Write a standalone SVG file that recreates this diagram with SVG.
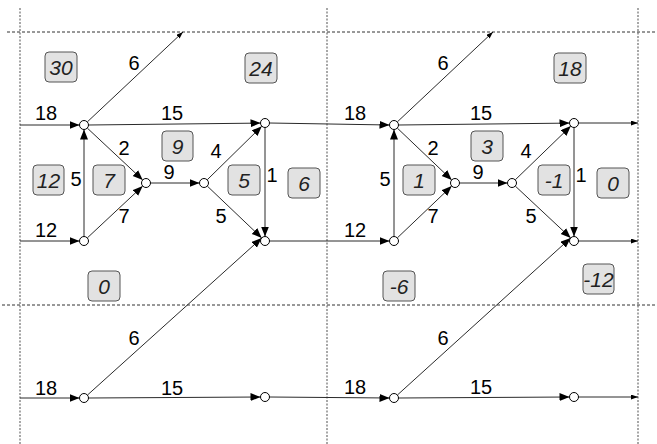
<svg xmlns="http://www.w3.org/2000/svg" width="657" height="444" viewBox="0 0 657 444">
<style>
.grid-v{stroke:#8a8a8a;stroke-width:1.5;stroke-dasharray:2,1.5;fill:none}
.grid-h{stroke:#333;stroke-width:1;stroke-dasharray:3,2;fill:none}
.ea{stroke:#2a2a2a;stroke-width:1;fill:none;marker-end:url(#arr)}
.es{stroke:#2a2a2a;stroke-width:1;fill:none;marker-end:url(#sarr)}
.n{fill:#fff;stroke:#000;stroke-width:1}
.lbl{font-family:"Liberation Sans",Arial,sans-serif;font-size:20px;fill:#000;text-anchor:middle}
.box{fill:#e2e2e2;stroke:#555;stroke-width:1}
.bt{font-family:"Liberation Sans",Arial,sans-serif;font-size:21px;font-style:italic;fill:#222;text-anchor:middle}
</style>
<defs>
<marker id="arr" markerUnits="userSpaceOnUse" markerWidth="11" markerHeight="9" refX="10" refY="4" orient="auto" viewBox="0 0 11 9">
<path d="M0,0 L10,4 L0,8 z" fill="#000"/>
</marker>
<marker id="sarr" markerUnits="userSpaceOnUse" markerWidth="8" markerHeight="6" refX="7" refY="2.5" orient="auto" viewBox="0 0 8 6">
<path d="M0,0 L7,2.5 L0,5 z" fill="#000"/>
</marker>
</defs>
<g id="grid">
<line class="grid-v" x1="20" y1="8" x2="20" y2="444"/>
<line class="grid-v" x1="327" y1="8" x2="327" y2="444"/>
<line class="grid-v" x1="638" y1="8" x2="638" y2="444"/>
<line class="grid-h" x1="7" y1="32" x2="657" y2="32"/>
<line class="grid-h" x1="2" y1="305" x2="657" y2="305"/>
</g>
<g id="connectors">
<line class="ea" x1="20" y1="125" x2="79.5" y2="125"/>
<line class="es" x1="87.3" y1="121.9" x2="183" y2="32"/>
<line class="ea" x1="88.5" y1="125" x2="260.5" y2="123.1"/>
<line class="ea" x1="87.3" y1="128.1" x2="142.7" y2="179.9"/>
<line class="ea" x1="84" y1="236.5" x2="84" y2="129.5"/>
<line class="ea" x1="87.3" y1="237.9" x2="142.7" y2="186.1"/>
<line class="ea" x1="20" y1="241" x2="79.5" y2="241"/>
<line class="ea" x1="150.5" y1="183" x2="199.5" y2="183"/>
<line class="ea" x1="207.2" y1="179.8" x2="261.8" y2="126.2"/>
<line class="ea" x1="207.3" y1="186.1" x2="261.7" y2="237.9"/>
<line class="ea" x1="265" y1="127.5" x2="265" y2="236.5"/>
<line class="ea" x1="269.5" y1="123" x2="389.5" y2="125"/>
<line class="ea" x1="269.5" y1="241" x2="389.5" y2="241"/>
<line class="ea" x1="87.4" y1="395.1" x2="261.6" y2="238.1"/>
<line class="ea" x1="20" y1="398" x2="79.5" y2="398"/>
<line class="ea" x1="88.5" y1="398" x2="260.5" y2="397"/>
<line class="ea" x1="269.5" y1="397" x2="389.5" y2="398"/>
<line class="es" x1="397.3" y1="121.9" x2="493" y2="32"/>
<line class="ea" x1="398.5" y1="125" x2="569.5" y2="123.1"/>
<line class="ea" x1="397.3" y1="128.1" x2="451.7" y2="179.9"/>
<line class="ea" x1="394" y1="236.5" x2="394" y2="129.5"/>
<line class="ea" x1="397.3" y1="237.9" x2="451.7" y2="186.1"/>
<line class="ea" x1="459.5" y1="183" x2="507.5" y2="183"/>
<line class="ea" x1="515.2" y1="179.9" x2="570.8" y2="126.1"/>
<line class="ea" x1="515.3" y1="186.1" x2="570.7" y2="237.9"/>
<line class="ea" x1="574" y1="127.5" x2="574" y2="236.5"/>
<line class="es" x1="578.5" y1="123" x2="638" y2="123"/>
<line class="es" x1="578.5" y1="241" x2="638" y2="241"/>
<line class="ea" x1="397.4" y1="395" x2="570.6" y2="238"/>
<line class="ea" x1="398.5" y1="398" x2="569.5" y2="397"/>
<line class="es" x1="578.5" y1="397" x2="638" y2="397"/>
</g>
<g id="edge-labels">
<text class="lbl" x="46" y="120">18</text>
<text class="lbl" x="134" y="70">6</text>
<text class="lbl" x="172" y="120">15</text>
<text class="lbl" x="124" y="155">2</text>
<text class="lbl" x="76" y="186">5</text>
<text class="lbl" x="124" y="223">7</text>
<text class="lbl" x="169" y="179">9</text>
<text class="lbl" x="216" y="158">4</text>
<text class="lbl" x="272" y="182">1</text>
<text class="lbl" x="221" y="223">5</text>
<text class="lbl" x="46" y="237">12</text>
<text class="lbl" x="134" y="345">6</text>
<text class="lbl" x="46" y="395">18</text>
<text class="lbl" x="172" y="395">15</text>
<text class="lbl" x="355" y="120">18</text>
<text class="lbl" x="443" y="70">6</text>
<text class="lbl" x="481" y="120">15</text>
<text class="lbl" x="433" y="155">2</text>
<text class="lbl" x="385" y="186">5</text>
<text class="lbl" x="433" y="223">7</text>
<text class="lbl" x="478" y="179">9</text>
<text class="lbl" x="526" y="158">4</text>
<text class="lbl" x="581" y="182">1</text>
<text class="lbl" x="531" y="223">5</text>
<text class="lbl" x="355" y="237">12</text>
<text class="lbl" x="443" y="345">6</text>
<text class="lbl" x="355" y="394">18</text>
<text class="lbl" x="481" y="394">15</text>
</g>
<g id="nodeA"><circle class="n" cx="84" cy="125" r="4.5"/></g>
<g id="nodeB"><circle class="n" cx="265" cy="123" r="4.5"/></g>
<g id="nodeC"><circle class="n" cx="84" cy="241" r="4.5"/></g>
<g id="nodeD"><circle class="n" cx="146" cy="183" r="4.5"/></g>
<g id="nodeE"><circle class="n" cx="204" cy="183" r="4.5"/></g>
<g id="nodeF"><circle class="n" cx="265" cy="241" r="4.5"/></g>
<g id="nodeG"><circle class="n" cx="84" cy="398" r="4.5"/></g>
<g id="nodeH"><circle class="n" cx="265" cy="397" r="4.5"/></g>
<g id="nodeA2"><circle class="n" cx="394" cy="125" r="4.5"/></g>
<g id="nodeB2"><circle class="n" cx="574" cy="123" r="4.5"/></g>
<g id="nodeC2"><circle class="n" cx="394" cy="241" r="4.5"/></g>
<g id="nodeD2"><circle class="n" cx="455" cy="183" r="4.5"/></g>
<g id="nodeE2"><circle class="n" cx="512" cy="183" r="4.5"/></g>
<g id="nodeF2"><circle class="n" cx="574" cy="241" r="4.5"/></g>
<g id="nodeG2"><circle class="n" cx="394" cy="398" r="4.5"/></g>
<g id="nodeH2"><circle class="n" cx="574" cy="397" r="4.5"/></g>
<g id="box30"><rect class="box" x="45" y="52" width="32" height="30" rx="4"/><text class="bt" x="61" y="74.5">30</text></g>
<g id="box24"><rect class="box" x="245" y="53" width="32" height="30" rx="4"/><text class="bt" x="261" y="75.5">24</text></g>
<g id="box9"><rect class="box" x="162" y="131" width="31" height="30" rx="4"/><text class="bt" x="177.5" y="153.5">9</text></g>
<g id="box12"><rect class="box" x="33" y="165" width="31" height="30" rx="4"/><text class="bt" x="48.5" y="187.5">12</text></g>
<g id="box7"><rect class="box" x="93" y="165" width="32" height="30" rx="4"/><text class="bt" x="109" y="187.5">7</text></g>
<g id="box5"><rect class="box" x="228" y="165" width="32" height="30" rx="4"/><text class="bt" x="244" y="187.5">5</text></g>
<g id="box6"><rect class="box" x="288" y="168" width="32" height="30" rx="4"/><text class="bt" x="304" y="190.5">6</text></g>
<g id="box0a"><rect class="box" x="88" y="271" width="32" height="30" rx="4"/><text class="bt" x="104" y="293.5">0</text></g>
<g id="box18"><rect class="box" x="554" y="53" width="32" height="30" rx="4"/><text class="bt" x="570" y="75.5">18</text></g>
<g id="box3"><rect class="box" x="471" y="131" width="32" height="30" rx="4"/><text class="bt" x="487" y="153.5">3</text></g>
<g id="box1"><rect class="box" x="403" y="165" width="32" height="30" rx="4"/><text class="bt" x="419" y="187.5">1</text></g>
<g id="boxm1"><rect class="box" x="538" y="165" width="32" height="30" rx="4"/><text class="bt" x="554" y="187.5">-1</text></g>
<g id="box0b"><rect class="box" x="597" y="168" width="32" height="30" rx="4"/><text class="bt" x="613" y="190.5">0</text></g>
<g id="boxm6"><rect class="box" x="383" y="271" width="32" height="30" rx="4"/><text class="bt" x="399" y="293.5">-6</text></g>
<g id="boxm12"><rect class="box" x="583" y="264" width="31" height="30" rx="4"/><text class="bt" x="598.5" y="286.5">-12</text></g>
</svg>
